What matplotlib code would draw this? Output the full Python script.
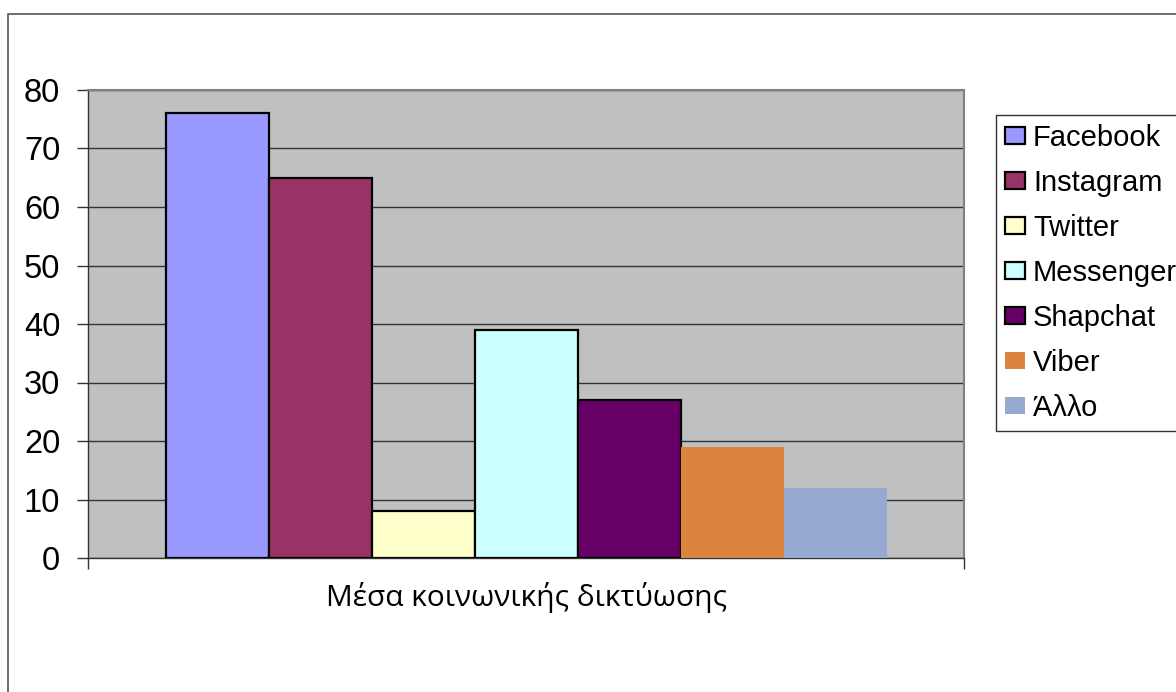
import matplotlib
matplotlib.use("Agg")
import matplotlib.pyplot as plt
from matplotlib.patches import Rectangle
from matplotlib.legend_handler import HandlerPatch
import numpy as np

plt.rcParams['font.family'] = ['Liberation Sans', 'DejaVu Sans']

category = "Μέσα κοινωνικής δικτύωσης"
series = ["Facebook", "Instagram", "Twitter", "Messenger", "Shapchat", "Viber", "Άλλο"]
values = [76, 65, 8, 39, 27, 19, 12]
colors = ["#9999FF", "#993366", "#FFFFCC", "#CCFFFF", "#660066", "#DC843E", "#95A9D1"]
edged = [True, True, True, True, True, False, False]
yticks = [0, 10, 20, 30, 40, 50, 60, 70, 80]

fig = plt.figure(figsize=(11.76, 6.92), dpi=100)
fig.patch.set_facecolor("white")

# outer chart border
fig.patches.append(Rectangle((8/1176, -0.1), 1.2, 678/692 + 0.1, transform=fig.transFigure,
                             fill=False, edgecolor="#555555", linewidth=1.2, clip_on=False))

ax = fig.add_axes([88/1176, (692-558)/692, 876/1176, 468/692])
ax.set_facecolor("#C0C0C0")
ax.set_xlim(-0.5, 0.5)
ax.set_ylim(0, 80)

w = 103/876
n = len(series)
for i, (s, v, c, e) in enumerate(zip(series, values, colors, edged)):
    ax.bar((i - (n-1)/2) * w, v, width=w, color=c,
           edgecolor="black" if e else c, linewidth=1.6 if e else 0,
           label=s, zorder=3)

ax.set_yticks(yticks)
ax.set_yticklabels([str(t) for t in yticks], fontsize=23.5)
ax.yaxis.grid(True, color="#333333", linewidth=1.0, zorder=1)
ax.set_axisbelow(True)
ax.tick_params(axis="y", length=8, width=1, color="#333333", pad=12)

ax.set_xticks([0])
ax.set_xticklabels([category], fontsize=21.5, family=["Open Sans", "DejaVu Sans"])
ax.set_xticks([-0.5, 0.5], minor=True)
ax.tick_params(axis="x", which="major", length=0, pad=17)
ax.tick_params(axis="x", which="minor", length=8, width=1, color="#333333")

for side in ["top", "right"]:
    ax.spines[side].set_color("#808080")
    ax.spines[side].set_linewidth(1.5)
for side in ["left", "bottom"]:
    ax.spines[side].set_color("#333333")
    ax.spines[side].set_linewidth(1.0)


def square_patch(legend, orig_handle, xdescent, ydescent, width, height, fontsize):
    s = height
    return Rectangle((-xdescent + width - s, -ydescent), s, s)


leg = fig.legend(loc="upper left", bbox_to_anchor=(996/1176, (692-115)/692),
                 bbox_transform=fig.transFigure, fontsize=21, frameon=True,
                 fancybox=False, edgecolor="black", borderaxespad=0,
                 handlelength=0.71, handleheight=0.5, handletextpad=0.26,
                 labelspacing=0.585, borderpad=0.3,
                 handler_map={Rectangle: HandlerPatch(patch_func=square_patch)})
leg.get_frame().set_linewidth(1.0)

fig.savefig("out.png", dpi=100)
